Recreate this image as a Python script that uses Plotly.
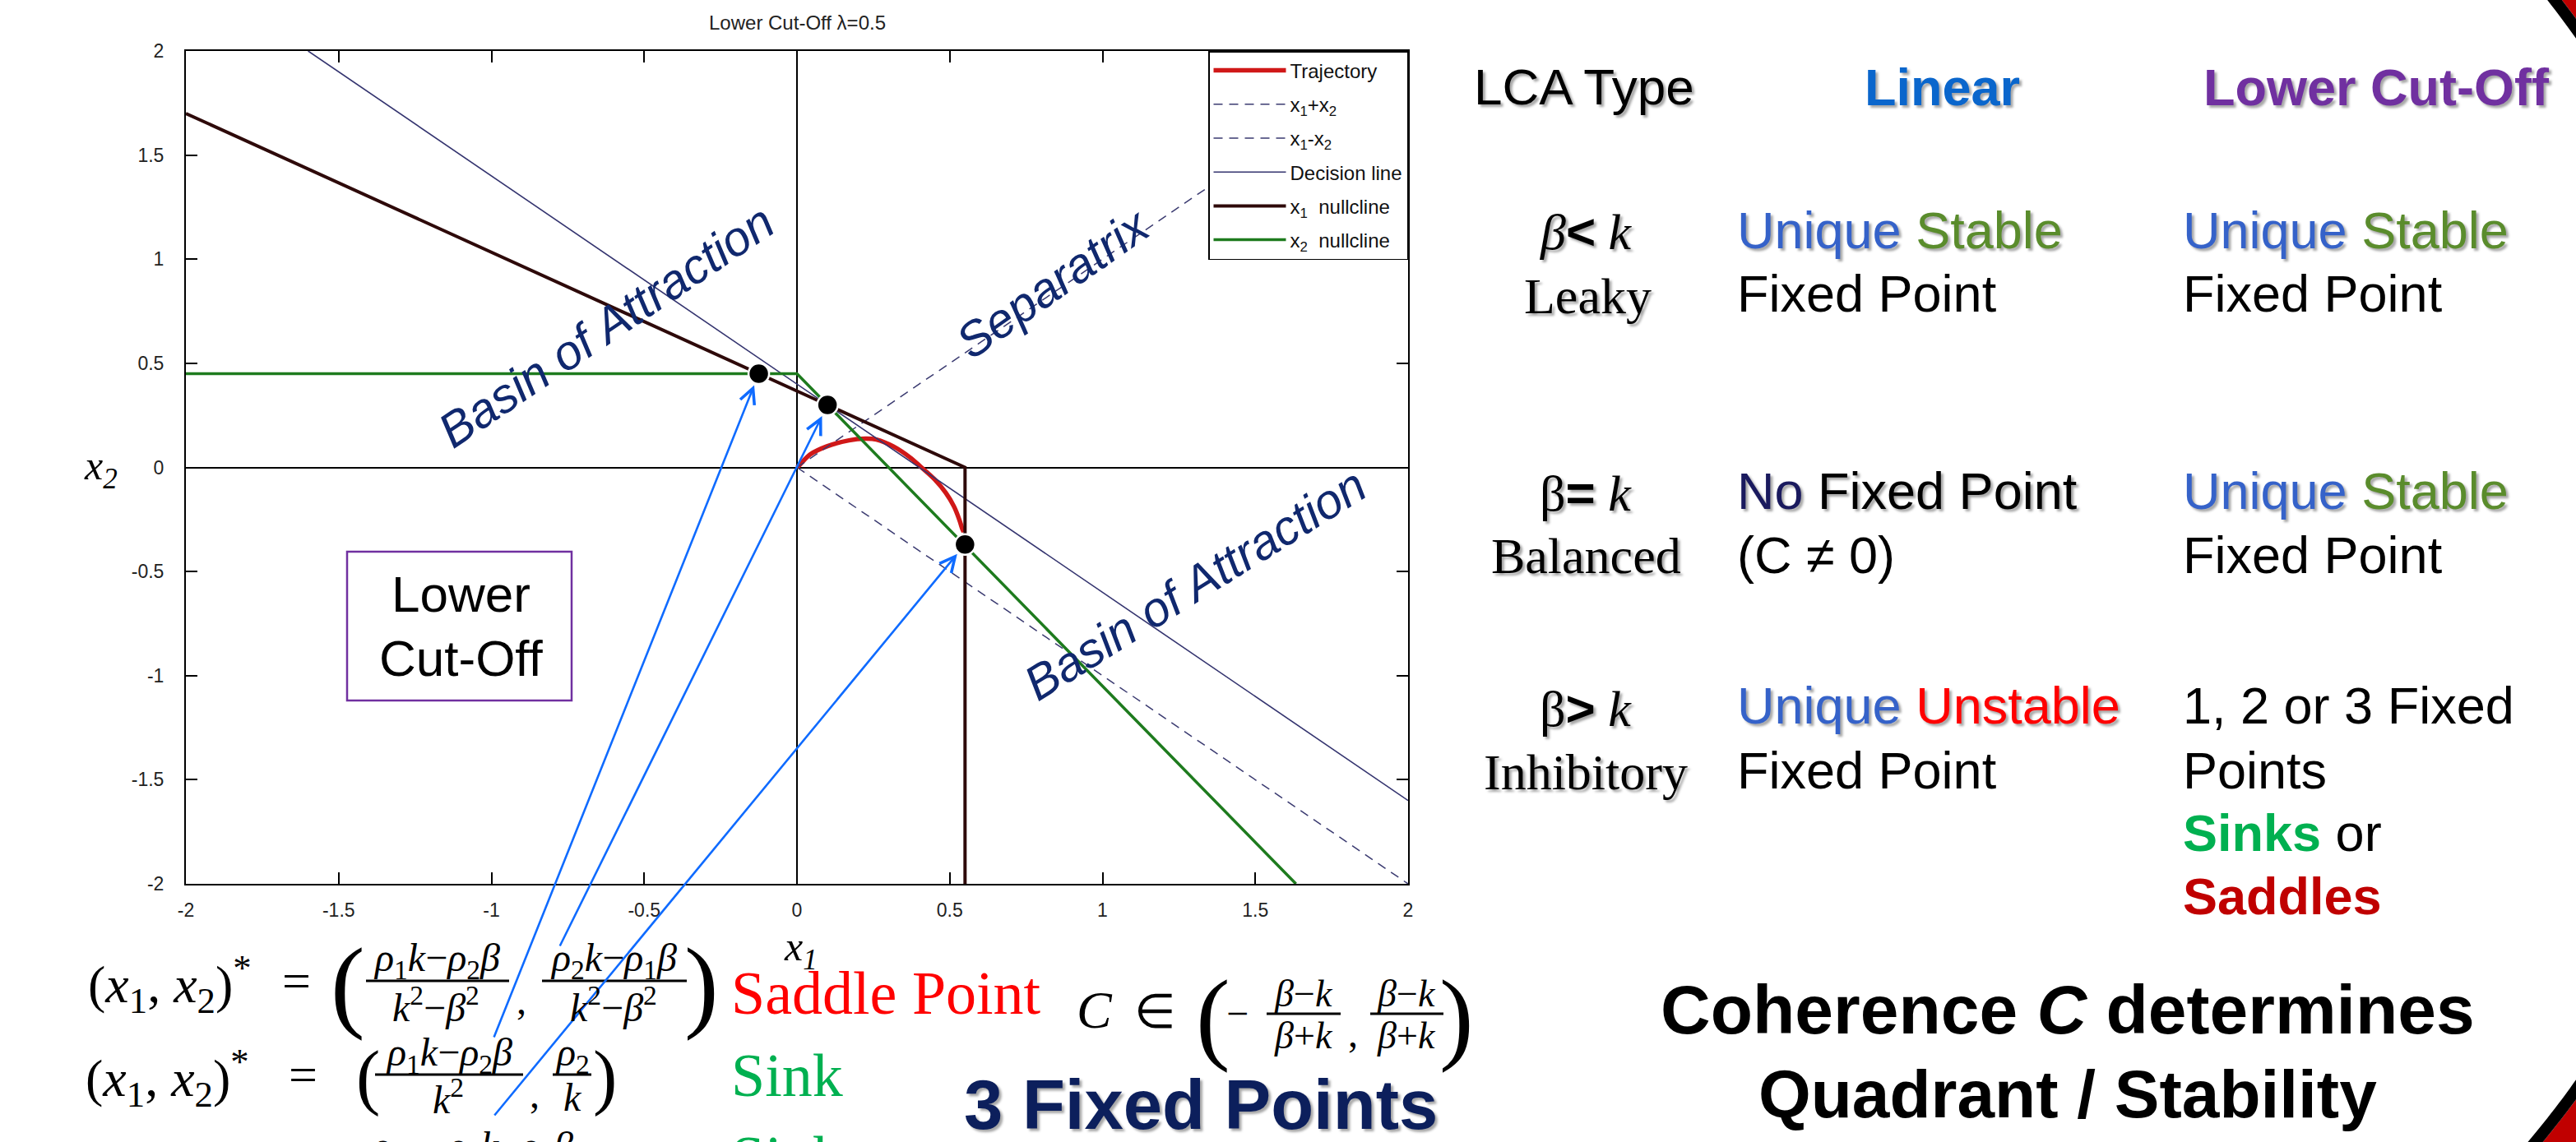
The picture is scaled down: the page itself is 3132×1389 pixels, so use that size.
import numpy as np
import plotly.graph_objects as go

W, H = 3132, 1389

# ---------------- data ----------------
traj_x1 = [0.0, 0.007, 0.043, 0.098, 0.17, 0.224, 0.26, 0.315, 0.369, 0.405, 0.45, 0.487, 0.514, 0.532, 0.541, 0.546]
traj_x2 = [0.0, 0.009, 0.062, 0.101, 0.13, 0.138, 0.134, 0.101, 0.049, 0.003, -0.057, -0.122, -0.188, -0.254, -0.295, -0.31]

sum_line_x = [0.0, 2.0]
sum_line_y = [0.0, -2.0]
diff_line_x = [0.0, 2.0]
diff_line_y = [0.0, 2.0]
decision_x = [-1.6, 2.0]
decision_y = [2.0, -1.6]
x1_null_x = [-2.0, 0.55, 0.55]
x1_null_y = [1.70, 0.0, -2.0]
x2_null_x = [-2.0, 0.0, 1.633]
x2_null_y = [0.45, 0.45, -2.0]

fixed_x = [-0.125, 0.10, 0.55]
fixed_y = [0.45, 0.30, -0.37]

tick_vals = [-2, -1.5, -1, -0.5, 0, 0.5, 1, 1.5, 2]
tick_text = ["-2", "-1.5", "-1", "-0.5", "0", "0.5", "1", "1.5", "2"]

legend_names = ["Trajectory", "x<sub>1</sub>+x<sub>2</sub>", "x<sub>1</sub>-x<sub>2</sub>",
                "Decision line", "x<sub>1</sub>  nullcline", "x<sub>2</sub>  nullcline"]

# ---------------- helpers ----------------
SANS = "Liberation Sans"
SERIF = "Liberation Serif"
SH = "3px 3px 3px rgba(0,0,0,0.35)"
XL, XR, YT, YB = 226, 1712, 62, 1075


def px(x):
    return x / W


def py(y):
    return 1 - y / H


anns = []
shapes = []


def T(x, y, s, size, color="black", fam=SANS, weight="normal", style="normal",
      xa="center", ya="middle", shadow=None, angle=0):
    f = dict(family=fam, size=size, color=color, weight=weight, style=style)
    if shadow:
        f["shadow"] = shadow
    anns.append(dict(x=px(x), y=py(y), xref="paper", yref="paper", text=s,
                     showarrow=False, xanchor=xa, yanchor=ya, font=f,
                     textangle=angle))


def bar(x0, x1, y, w=3):
    shapes.append(dict(type="line", xref="paper", yref="paper",
                       x0=px(x0), x1=px(x1), y0=py(y), y1=py(y),
                       line=dict(color="black", width=w)))


# ---------------- figure ----------------
fig = go.Figure()

fig.add_trace(go.Scatter(x=traj_x1, y=traj_x2, mode="lines", name=legend_names[0],
                         line=dict(color="#d01818", width=5.5, shape="spline"),
                         legendgroup="a"))
fig.add_trace(go.Scatter(x=sum_line_x, y=sum_line_y, mode="lines", name=legend_names[1],
                         line=dict(color="#3a3a70", width=1.5, dash="11px,8px"),
                         legendgroup="b"))
fig.add_trace(go.Scatter(x=diff_line_x, y=diff_line_y, mode="lines", name=legend_names[2],
                         line=dict(color="#3a3a70", width=1.5, dash="11px,8px"),
                         legendgroup="c"))
fig.add_trace(go.Scatter(x=decision_x, y=decision_y, mode="lines", name=legend_names[3],
                         line=dict(color="#34346f", width=1.6), legendgroup="d"))
fig.add_trace(go.Scatter(x=x1_null_x, y=x1_null_y, mode="lines", name=legend_names[4],
                         line=dict(color="#2e0a0a", width=4), legendgroup="e"))
fig.add_trace(go.Scatter(x=x2_null_x, y=x2_null_y, mode="lines", name=legend_names[5],
                         line=dict(color="#1e7b1e", width=3.5), legendgroup="f"))
fig.add_trace(go.Scatter(x=fixed_x, y=fixed_y, mode="markers", showlegend=False,
                         marker=dict(size=25, color="black", line=dict(color="white", width=2.5))))

axis_common = dict(range=[-2, 2], tickvals=tick_vals, ticktext=tick_text, ticks="inside",
                   ticklen=14, tickwidth=1.5, tickcolor="black", showline=True,
                   linecolor="black", linewidth=2, mirror="ticks", showgrid=False,
                   zeroline=True, zerolinecolor="black", zerolinewidth=1.5,
                   automargin=False,
                   tickfont=dict(family=SANS, size=23, color="#222"), fixedrange=True)
fig.update_xaxes(domain=[px(XL), px(XR)], ticklabelstandoff=10, **axis_common)
fig.update_yaxes(domain=[py(YB), py(YT)], ticklabelstandoff=20, **axis_common)

# arrows from the formulas to the fixed points (tail offsets in px)
arrow_tails = [(600, 1263), (680, 1152), (600, 1358)]
for fx, fy, (tx, ty) in zip(fixed_x, fixed_y, arrow_tails):
    hx = XL + (fx + 2) / 4 * (XR - XL)
    hy = YT + (2 - fy) / 4 * (YB - YT)
    anns.append(dict(x=fx, y=fy, xref="x", yref="y", text="", showarrow=True,
                     ax=tx - hx, ay=ty - hy, axref="pixel", ayref="pixel",
                     arrowhead=5, arrowsize=1.4, arrowwidth=2.6, arrowcolor="#0f6bff",
                     standoff=15))

# plot title and axis labels
T(969, 28, "Lower Cut-Off λ=0.5", 24, color="#222")
T(973, 1155, "<i>x<sub>1</sub></i>", 50, fam=SERIF)
T(122, 570, "<i>x<sub>2</sub></i>", 50, fam=SERIF)

# in-plot labels
NAVY = "#10286e"
T(737, 397, "Basin of Attraction", 59, color=NAVY, style="italic", angle=-34)
T(1280, 345, "Separatrix", 59, color=NAVY, style="italic", angle=-35)
T(1453, 711, "Basin of Attraction", 59, color=NAVY, style="italic", angle=-32)

shapes.append(dict(type="rect", xref="paper", yref="paper", x0=px(422), x1=px(695),
                   y0=py(852), y1=py(671), line=dict(color="#7030a0", width=2.5),
                   fillcolor="white"))
T(560, 723, "Lower", 62)
T(560, 800, "Cut-Off", 62)

# ---------------- formulas ----------------
X12 = "(<i>x</i><sub>1</sub>, <i>x</i><sub>2</sub>)<sup>*</sup>"
FF = 48
# row 1
T(206, 1197, X12, 64, fam=SERIF)
T(360, 1193, "=", 62, fam=SERIF)
T(423, 1197, "(", 125, fam=SERIF)
T(531, 1168, "<i>ρ</i><sub>1</sub><i>k</i>−<i>ρ</i><sub>2</sub><i>β</i>", FF, fam=SERIF)
bar(445, 619, 1193)
T(530, 1222, "<i>k</i><sup>2</sup>−<i>β</i><sup>2</sup>", FF, fam=SERIF)
T(634, 1216, ",", FF, fam=SERIF)
T(746, 1168, "<i>ρ</i><sub>2</sub><i>k</i>−<i>ρ</i><sub>1</sub><i>β</i>", FF, fam=SERIF)
bar(659, 835, 1193)
T(746, 1222, "<i>k</i><sup>2</sup>−<i>β</i><sup>2</sup>", FF, fam=SERIF)
T(853, 1197, ")", 125, fam=SERIF)
T(887, 1208, "Saddle Point", 74, color="#ff0000", fam=SERIF, xa="left")
# row 2
T(203, 1311, X12, 64, fam=SERIF)
T(368, 1307, "=", 62, fam=SERIF)
T(447, 1309, "(", 88, fam=SERIF)
T(546, 1283, "<i>ρ</i><sub>1</sub><i>k</i>−<i>ρ</i><sub>2</sub><i>β</i>", FF, fam=SERIF)
bar(456, 636, 1307)
T(545, 1334, "<i>k</i><sup>2</sup>", FF, fam=SERIF)
T(650, 1330, ",", FF, fam=SERIF)
T(696, 1283, "<i>ρ</i><sub>2</sub>", FF, fam=SERIF)
bar(672, 719, 1307)
T(696, 1334, "<i>k</i>", FF, fam=SERIF)
T(735, 1309, ")", 88, fam=SERIF)
T(887, 1308, "Sink", 74, color="#00b050", fam=SERIF, xa="left")
# row 3 (cut off by the bottom edge, as in the slide)
T(203, 1425, X12, 64, fam=SERIF)
T(368, 1421, "=", 62, fam=SERIF)
T(437, 1423, "(", 88, fam=SERIF)
T(472, 1397, "<i>ρ</i><sub>1</sub>", FF, fam=SERIF)
bar(458, 488, 1421)
T(472, 1448, "<i>k</i>", FF, fam=SERIF)
T(500, 1444, ",", FF, fam=SERIF)
T(620, 1397, "<i>ρ</i><sub>2</sub><i>k</i>−<i>ρ</i><sub>1</sub><i>β</i>", FF, fam=SERIF)
bar(530, 712, 1421)
T(620, 1448, "<i>k</i><sup>2</sup>", FF, fam=SERIF)
T(730, 1423, ")", 88, fam=SERIF)
T(887, 1408, "Sink", 74, color="#00b050", fam=SERIF, xa="left")

# coherence range
T(1331, 1228, "<i>C</i>", 64, fam=SERIF)
T(1404, 1230, "∈", 58, fam=SERIF)
T(1475, 1236, "(", 125, fam=SERIF)
T(1504, 1232, "−", FF, fam=SERIF)
T(1585, 1208, "<i>β</i>−<i>k</i>", 46, fam=SERIF)
bar(1540, 1630, 1233)
T(1585, 1259, "<i>β</i>+<i>k</i>", 46, fam=SERIF)
T(1645, 1256, ",", FF, fam=SERIF)
T(1710, 1208, "<i>β</i>−<i>k</i>", 46, fam=SERIF)
bar(1666, 1755, 1233)
T(1710, 1259, "<i>β</i>+<i>k</i>", 46, fam=SERIF)
T(1771, 1236, ")", 125, fam=SERIF)

T(1460, 1343, "3 Fixed Points", 85, color="#0c1f5c", weight="bold", shadow=SH)

# ---------------- right-hand table ----------------
BLUE = "#3562c9"
OLIVE = "#5a8c2c"
TS = 63


def span(t, c, bold=False):
    w = ";font-weight:bold" if bold else ""
    return f"<span style='color:{c}{w}'>{t}</span>"


US = span("Unique", BLUE) + " " + span("Stable", OLIVE)
OP = "<span style='font-family:Liberation Sans;font-weight:bold'>{}</span>"

T(1926, 106, "LCA Type", 62, shadow=SH)
T(2361, 106, "Linear", 63, color="#0a66cc", weight="bold", shadow=SH)
T(2889, 106, "Lower Cut-Off", 63, color="#7030a0", weight="bold", shadow=SH)

T(1928, 282, "<i>β</i>" + OP.format("&lt;") + " <i>k</i>", 62, fam=SERIF, shadow=SH)
T(1930, 360, "Leaky", 62, fam=SERIF, shadow=SH)
T(2110, 280, US, TS, xa="left", shadow=SH)
T(2110, 357, "Fixed Point", TS, xa="left")
T(2652, 280, US, TS, xa="left", shadow=SH)
T(2652, 357, "Fixed Point", TS, xa="left")

T(1928, 599, "β" + OP.format("=") + " <i>k</i>", 62, fam=SERIF, shadow=SH)
T(1928, 676, "Balanced", 62, fam=SERIF, shadow=SH)
T(2110, 597, span("No", "#1a1a5e") + " Fixed Point", TS, xa="left", shadow=SH)
T(2110, 675, "(C ≠ 0)", TS, xa="left")
T(2652, 597, US, TS, xa="left", shadow=SH)
T(2652, 675, "Fixed Point", TS, xa="left")

T(1928, 862, "β" + OP.format("&gt;") + " <i>k</i>", 62, fam=SERIF, shadow=SH)
T(1928, 939, "Inhibitory", 62, fam=SERIF, shadow=SH)
T(2110, 858, span("Unique", BLUE) + " " + span("Unstable", "#ff0000"), TS, xa="left", shadow=SH)
T(2110, 937, "Fixed Point", TS, xa="left")
T(2652, 858, "1, 2 or 3 Fixed", TS, xa="left")
T(2652, 937, "Points", TS, xa="left")
T(2652, 1013, span("Sinks", "#00b050", True) + " or", TS, xa="left")
T(2652, 1090, "Saddles", TS, color="#c00000", weight="bold", xa="left")

T(2514, 1228, "Coherence <i>C</i> determines", 84, weight="bold")
T(2514, 1330, "Quadrant / Stability", 82, weight="bold")

# ---------------- decorative ring at the right edge ----------------
CX, CY = 2235, 680


def arc(r, a0, a1, n=50):
    th = np.radians(np.linspace(a0, a1, n))
    return [(CX + r * np.cos(t), CY + r * np.sin(t)) for t in th]


def path(pts, close=False):
    s = "M " + " L ".join(f"{px(x):.5f},{py(y):.5f}" for x, y in pts)
    return s + (" Z" if close else "")


red_top = arc(1112, -46, -27) + [(3400, 175), (3400, -300), (3007, -300)]
red_bot = arc(1112, 27, 46) + [(3007, 1700), (3400, 1700), (3400, 1185)]
for poly in (red_top, red_bot):
    shapes.append(dict(type="path", xref="paper", yref="paper", path=path(poly, True),
                       fillcolor="#c00000", line=dict(width=0)))
for a0, a1 in ((-46, -27), (27, 46)):
    shapes.append(dict(type="path", xref="paper", yref="paper", path=path(arc(1105, a0, a1)),
                       line=dict(color="black", width=14)))

fig.update_layout(
    width=W, height=H, autosize=False,
    margin=dict(l=0, r=0, t=0, b=0, autoexpand=False),
    paper_bgcolor="white", plot_bgcolor="white",
    showlegend=True,
    legend=dict(x=px(XR), y=py(YT), xanchor="right", yanchor="top", bgcolor="white",
                bordercolor="black", borderwidth=1.5, itemwidth=88, tracegroupgap=7,
                traceorder="grouped",
                font=dict(family=SANS, size=24, color="#111")),
    annotations=anns,
    shapes=shapes,
)

fig.write_html("out.html")
